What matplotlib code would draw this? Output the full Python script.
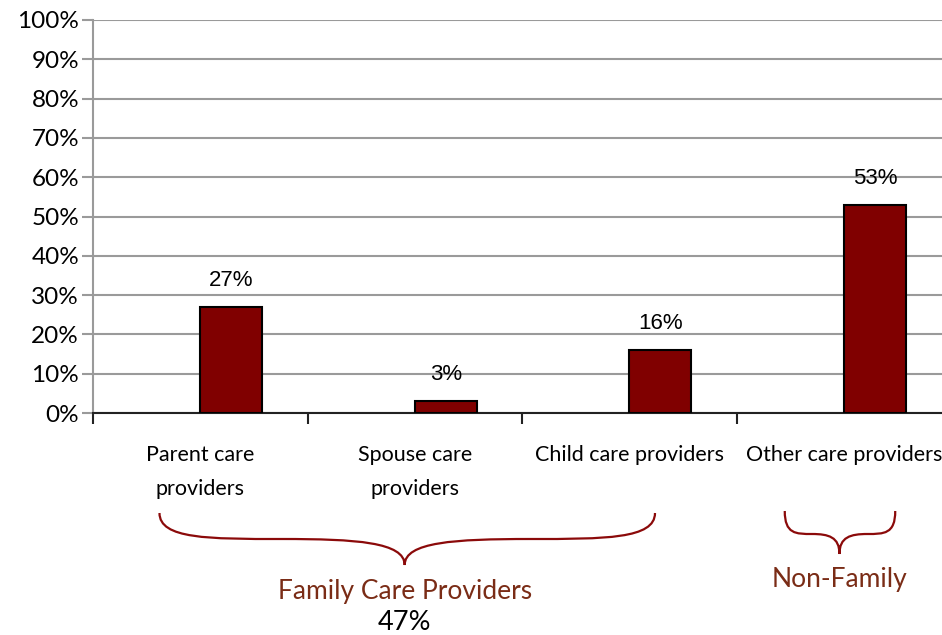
import matplotlib
matplotlib.use("Agg")
import matplotlib.pyplot as plt
from matplotlib.path import Path
from matplotlib.patches import PathPatch
from matplotlib.transforms import blended_transform_factory
import numpy as np

categories = ["Parent care\nproviders", "Spouse care\nproviders",
              "Child care providers", "Other care providers"]
values = [27, 3, 16, 53]
value_labels = ["27%", "3%", "16%", "53%"]
yticks = [0, 10, 20, 30, 40, 50, 60, 70, 80, 90, 100]
group_labels = ["Family Care Providers", "Non-Family"]
group_totals = ["47%", ""]

W, H = 942, 635
fig = plt.figure(figsize=(W / 100, H / 100), dpi=100)
plt.rcParams['font.family'] = ['Lato', 'DejaVu Sans']

# axes in pixel terms: left 93, right 951, top 20, bottom 413
ax = fig.add_axes([93 / W, 1 - 413 / H, (951 - 93) / W, (413 - 20) / H])
x = np.arange(len(values))
ax.bar(x, values, width=0.29, align='edge', color='#800000',
       edgecolor='black', linewidth=1.5, zorder=3)
for xi, v, lab in zip(x, values, value_labels):
    ax.text(xi + 0.145, v + 4, lab, ha='center', va='bottom',
            fontsize=16, family=['Liberation Sans', 'DejaVu Sans'], zorder=4)

ax.set_xlim(-0.5, len(values) - 0.5)
ax.set_ylim(0, 100)
ax.set_yticks(yticks)
ax.set_yticklabels([f"{t}%" for t in yticks], fontsize=17.5)
ax.yaxis.grid(True, color='#9a9a9a', linewidth=1.5, zorder=0)
ax.set_axisbelow(True)
for s in ['top', 'right']:
    ax.spines[s].set_visible(False)
ax.spines['left'].set_color('#9a9a9a')
ax.spines['left'].set_linewidth(1.5)
ax.spines['bottom'].set_color('#222222')
ax.spines['bottom'].set_linewidth(1.5)
ax.tick_params(axis='y', length=8, width=1.5, color='#9a9a9a', pad=2)
# category boundary ticks
ax.set_xticks(np.arange(-0.5, len(values) - 0.5, 1.0))
ax.set_xticklabels([])
ax.tick_params(axis='x', length=8, width=1.5, color='#222222')

trans = blended_transform_factory(ax.transData, fig.transFigure)
for xi, c in zip(x, categories):
    ax.text(xi, 1 - 445 / H, c, transform=trans, ha='center', va='top',
            fontsize=15.5, linespacing=1.85)


def brace(x0, x1, xm, ytop, ymid, ytip):
    def fy(p):
        return 1 - p / H
    xq_l = (x0 + xm) / 2
    xq_r = (x1 + xm) / 2
    verts = [
        (x0, fy(ytop)),
        (x0, fy(ymid)), (x0 + 0.2 * (xm - x0), fy(ymid)), (xq_l, fy(ymid)),
        (xq_l + 0.6 * (xm - xq_l), fy(ymid)), (xm, fy(ymid + 3)), (xm, fy(ytip)),
        (xm, fy(ymid + 3)), (xq_r - 0.6 * (xq_r - xm), fy(ymid)), (xq_r, fy(ymid)),
        (x1 - 0.2 * (x1 - xm), fy(ymid)), (x1, fy(ymid)), (x1, fy(ytop)),
    ]
    codes = [Path.MOVETO] + [Path.CURVE4] * 12
    p = PathPatch(Path(verts, codes), transform=trans, facecolor='none',
                  edgecolor='#8b0a0a', linewidth=1.6, clip_on=False)
    ax.add_patch(p)


brace(-0.19, 2.12, 0.953, 513, 539, 565)
brace(2.725, 3.24, 2.98, 511, 534, 554)

ax.text(0.953, 1 - 591 / H, group_labels[0], transform=trans, ha='center',
        va='center', fontsize=19, color='#7a2c16')
ax.text(0.953, 1 - 622 / H, group_totals[0], transform=trans, ha='center',
        va='center', fontsize=19.5, color='black')
ax.text(2.98, 1 - 579 / H, group_labels[1], transform=trans, ha='center',
        va='center', fontsize=19, color='#7a2c16')

fig.savefig("out.png", dpi=100)
